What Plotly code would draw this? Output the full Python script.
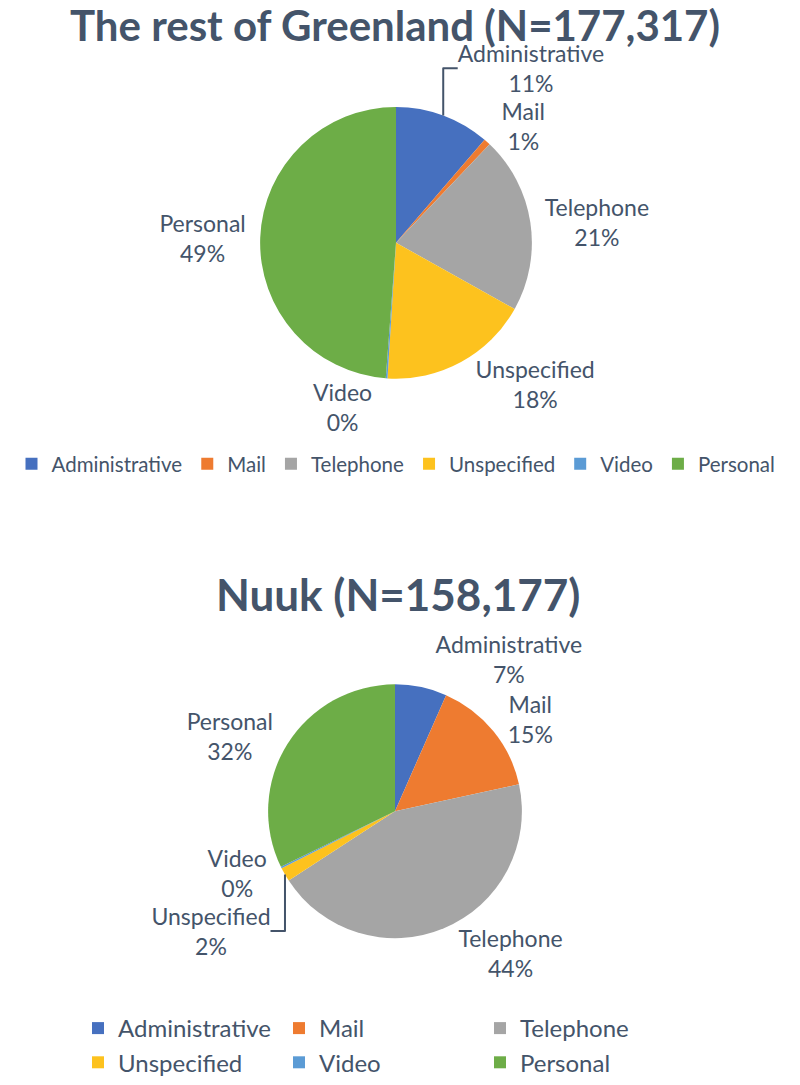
import plotly.graph_objects as go

# channel categories (same order in both pies and legends)
categories = ["Administrative", "Mail", "Telephone", "Unspecified", "Video", "Personal"]

# share of contacts (%)
rest_values = [11.3, 0.8, 21.0, 17.9, 0.2, 48.8]
nuuk_values = [6.6, 15.0, 44.2, 1.8, 0.2, 32.2]

rest_title = "The rest of Greenland (N=177,317)"
nuuk_title = "Nuuk (N=158,177)"

colors = ["#4670BF", "#EE7B30", "#A5A5A5", "#FDC21E", "#5B9BD5", "#6DAD47"]
text_color = "#44546A"
font_family = "Lato, 'Open Sans', sans-serif"

# the page body adds an 8px margin, so the figure is 8px smaller than the window
OFF = 8
W, H = 800 - OFF, 1085 - OFF


def fx(x):
    return (x - OFF) / W


def fy(y):
    return 1 - (y - OFF) / H


def dom(cx, cy, r):
    # pie domain from a centre/radius in window pixels
    return dict(x=[fx(cx - r), fx(cx + r)], y=[fy(cy + r), fy(cy - r)])


label_font = dict(size=23, color=text_color, family=font_family)

fig = go.Figure()

fig.add_trace(go.Pie(
    labels=categories, values=rest_values, sort=False, direction="clockwise",
    rotation=0, domain=dom(396, 243, 136),
    marker=dict(colors=colors, line=dict(width=0)),
    texttemplate="%{label}<br>%{percent:.0%}", textposition="outside",
    outsidetextfont=label_font,
    legend="legend", legendgroup="rest", showlegend=True,
))

fig.add_trace(go.Pie(
    labels=categories, values=nuuk_values, sort=False, direction="clockwise",
    rotation=0, domain=dom(395, 812, 127),
    marker=dict(colors=colors, line=dict(width=0)),
    texttemplate="%{label}<br>%{percent:.0%}", textposition="outside",
    outsidetextfont=label_font,
    legend="legend2", legendgroup="nuuk", showlegend=True,
))

fig.update_layout(
    width=W, height=H,
    margin=dict(l=0, r=0, t=0, b=0),
    paper_bgcolor="white", plot_bgcolor="white",
    font=dict(family=font_family, color=text_color),
    legend=dict(orientation="h", traceorder="normal", x=fx(396), xanchor="center",
                y=fy(464), yanchor="middle", itemclick=False,
                bgcolor="rgba(0,0,0,0)",
                font=dict(size=20.5, color=text_color, family=font_family)),
    legend2=dict(orientation="h", traceorder="normal", x=fx(78), xanchor="left",
                 y=fy(1046), yanchor="middle", entrywidth=156, itemclick=False,
                 bgcolor="rgba(0,0,0,0)",
                 font=dict(size=24, color=text_color, family=font_family)),
    annotations=[
        dict(text="<b>" + rest_title + "</b>", x=fx(395), y=fy(25),
             xref="paper", yref="paper", showarrow=False, yanchor="middle",
             font=dict(size=42, color=text_color, family=font_family)),
        dict(text="<b>" + nuuk_title + "</b>", x=fx(398), y=fy(595),
             xref="paper", yref="paper", showarrow=False, yanchor="middle",
             font=dict(size=44, color=text_color, family=font_family)),
    ],
)

fig.write_html("out.html")
